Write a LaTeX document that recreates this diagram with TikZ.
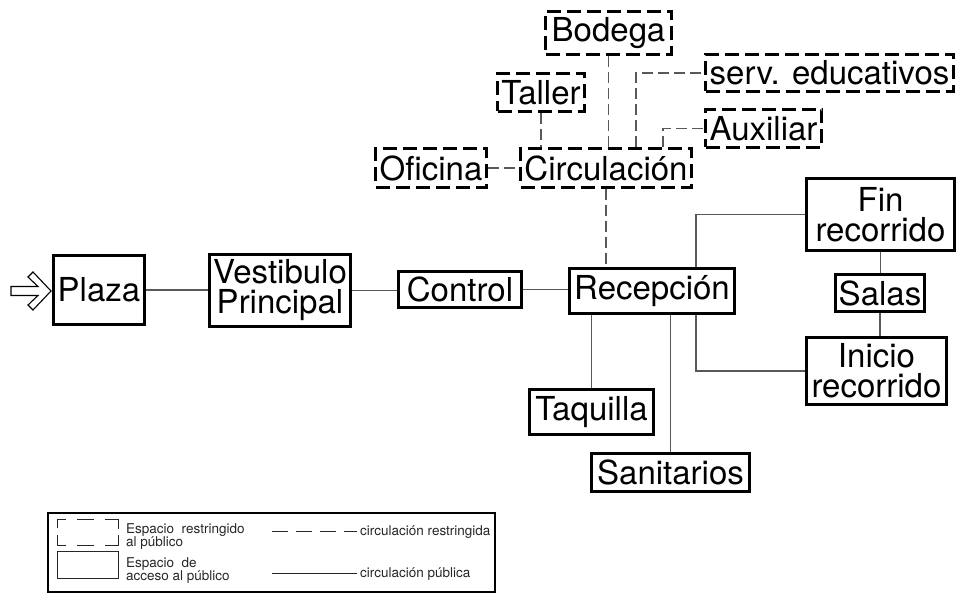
\documentclass[tikz,border=0pt]{standalone}
\usepackage{fontspec}
\setmainfont{TeX Gyre Heros}
\begin{document}
\begin{tikzpicture}[x=1pt,y=-1pt,
  room/.style={draw=black,line width=2.8pt,inner sep=0pt,align=center,
    font=\fontsize{33}{30}\selectfont},
  pub/.style={room},
  restr/.style={room,dash pattern=on 14pt off 6pt},
  link/.style={draw=black!65,line width=1.1pt},
  rlink/.style={link,dash pattern=on 11pt off 5pt},
  legtxt/.style={inner sep=0pt,align=left,text=black!85,font=\fontsize{13.5}{12}\selectfont},
  legline/.style={line width=0.8pt,draw=black!85}]
\useasboundingbox (0,0) rectangle (959,593);

% public spaces
\node[pub,minimum width=91,minimum height=69] (plaza) at (99,290) {Plaza};
\node[pub,minimum width=141,minimum height=72] (vest) at (280,290.5) {Vestibulo\\Principal};
\node[pub,minimum width=123,minimum height=36] (ctrl) at (460,289.5) {Control};
\node[pub,minimum width=165,minimum height=45] (rec) at (652,291) {Recepción};
\node[pub,minimum width=148,minimum height=72] (fin) at (880.5,214.5) {Fin\\recorrido};
\node[pub,minimum width=89,minimum height=37] (salas) at (880,293) {Salas};
\node[pub,minimum width=140,minimum height=67] (ini) at (876.5,371) {Inicio\\recorrido};
\node[pub,minimum width=124,minimum height=45] (taq) at (591.5,412) {Taquilla};
\node[pub,minimum width=158,minimum height=38] (san) at (670.5,472.5) {Sanitarios};

% restricted spaces
\node[restr,minimum width=126,minimum height=43] (bod) at (608.5,33) {Bodega};
\node[restr,minimum width=87,minimum height=38] (tal) at (541,92.5) {Taller};
\node[restr,minimum width=111,minimum height=39] (ofi) at (431,168) {Oficina};
\node[restr,minimum width=171,minimum height=39] (circ) at (606,168) {Circulación};
\node[restr,minimum width=248,minimum height=37] (serv) at (829.5,73) {serv. educativos};
\node[restr,minimum width=116,minimum height=38] (aux) at (763.5,128.5) {Auxiliar};

% entrance arrow
\draw[line width=1.1pt,fill=white] (11,286.5) -- (38,286.5) -- (28,277) -- (33,272)
  -- (51,291) -- (33,310) -- (28,305) -- (38,295.5) -- (11,295.5) -- cycle;

% public circulation
\draw[link] (plaza.east) -- (plaza.east -| vest.west);
\draw[link] (vest.east) -- (vest.east -| ctrl.west);
\draw[link] (ctrl.east) -- (ctrl.east -| rec.west);
\draw[link] (taq.north |- rec.south) -- (taq.north);
\draw[link] (san.north |- rec.south) -- (san.north);
\draw[link] ([xshift=44pt]rec.south) |- (ini.west);
\draw[link] ([xshift=44pt]rec.north) |- (fin.west);
\draw[link] (fin.south) -- (fin.south |- salas.north);
\draw[link] (salas.south) -- (salas.south |- ini.north);

% restricted circulation
\draw[rlink] (circ.south) -- (circ.south |- rec.north);
\draw[rlink] (bod.south) -- (bod.south |- circ.north);
\draw[rlink] (tal.south) -- (tal.south |- circ.north);
\draw[rlink] (ofi.east) -- (ofi.east -| circ.west);
\draw[rlink] ([xshift=30pt]circ.north) |- (serv.west);
\draw[rlink] ([xshift=57pt]circ.north) |- (aux.west);

% legend frame
\draw[line width=2.5pt] (48,513) rectangle (495,592);
% legend: restricted space sample, drawn as corner pieces and dashes
\draw[legline] (57,528) -- (57,519) -- (66,519);
\draw[legline] (77,519) -- (94,519);
\draw[legline] (105,519) -- (118,519) -- (118,529);
\draw[legline] (57,535) -- (57,545) -- (66,545);
\draw[legline] (77,545) -- (94,545);
\draw[legline] (105,545) -- (118,545) -- (118,535);
\node[legtxt,anchor=north west] (l1) at (126,523) {Espacio\ \ restringido\\al público};
% legend: public space sample
\draw[legline] (57,551) rectangle (118,578);
\node[legtxt,anchor=north west] (l2) at (126,557) {Espacio\ \ de\\acceso al público};
% legend: circulation samples
\draw[legline,line width=0.9pt,dash pattern=on 16pt off 8pt] (272,531) -- (357,531);
\node[legtxt,anchor=base west] (l3) at (360,535) {circulación restringida};
\draw[legline,line width=0.9pt] (272,573) -- (357,573);
\node[legtxt,anchor=base west] (l4) at (360,577) {circulación pública};
\end{tikzpicture}
\end{document}
